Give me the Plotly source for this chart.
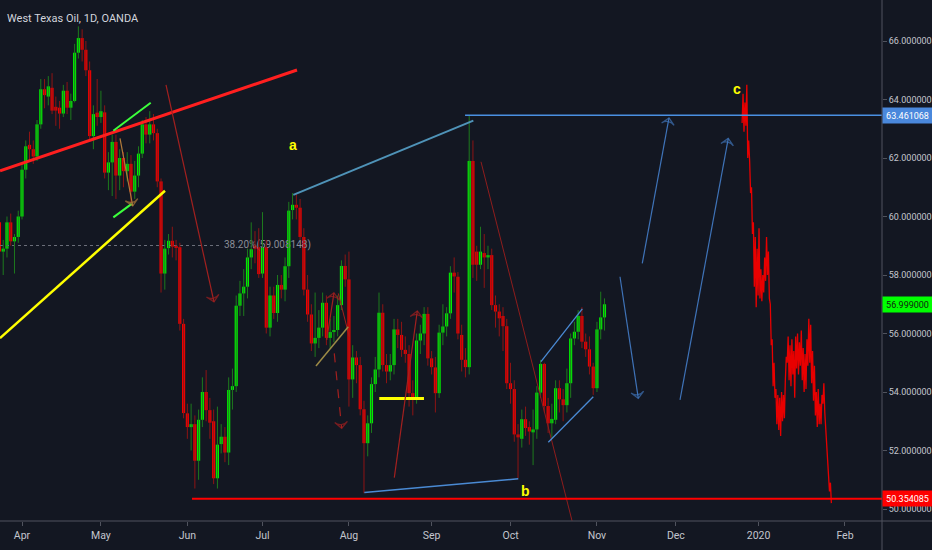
import pandas as pd
import plotly.graph_objects as go

title_text = "West Texas Oil, 1D, OANDA"

# ---- daily OHLC (Mar 22 2019 .. Nov 5 2019, trading days, Good Friday closed) ----
opens = [
    59.8, 58.8, 58.9, 59.8, 59.15, 59.3,
    60.0, 61.6, 62.45, 62.3, 62.05, 63.15, 64.35, 64.1, 64.4, 63.75, 63.72, 63.52, 64.3, 63.72, 63.95, 65.6, 66.1, 65.7, 65.0, 62.75, 63.55,
    63.4, 63.56, 61.5, 61.85, 62.55, 61.4, 62.0, 61.55, 61.8, 60.85, 61.4, 62.15, 63.15, 62.8, 63.15, 62.85, 61.2, 58.05, 58.92, 59.17, 59.0, 58.95, 56.33,
    53.27, 52.8, 52.9, 51.65, 53.05, 54.0, 53.38, 53.0, 51.05, 52.22, 52.47, 51.93, 54.07, 54.2, 56.95, 57.37, 57.6, 58.6, 59.0, 58.95,
    58.05, 58.95, 56.2, 57.3, 56.7, 57.66, 57.5, 58.3, 60.22, 60.4, 60.3, 59.3, 57.5, 56.65, 55.66, 55.85, 56.2, 57.05, 55.85, 56.05, 56.12, 56.97, 58.31,
    57.85, 54.43, 55.18, 54.92, 53.41, 52.25, 52.93, 54.27, 54.77, 56.71, 54.92, 54.7, 54.92, 56.14, 55.95, 55.44, 55.3, 53.96, 53.78, 55.76, 56.0, 56.67,
    55.15, 54.84, 53.96, 56.03, 56.24, 56.69, 58.08, 57.94, 55.95, 55.1, 54.85, 61.9, 58.8, 58.35, 58.75, 58.6, 58.68, 56.97, 56.75, 56.6, 56.25,
    54.3, 54.1, 52.55, 52.4, 53.07, 52.8, 52.62, 52.72, 53.98, 54.96, 53.52, 52.93, 53.05, 54.13, 53.75, 53.55, 54.3, 55.83, 56.06, 56.6, 55.72, 55.46, 54.87,
    54.13, 56.14, 56.55,
]
highs = [
    60.0, 59.2, 60.0, 60.1, 59.4, 60.2,
    61.8, 62.6, 62.9, 62.6, 63.3, 64.7, 64.7, 64.8, 64.9, 64.1, 63.95, 64.5, 64.6, 64.2, 65.9, 66.5, 66.4, 66.0, 65.3, 63.8, 64.7,
    64.3, 63.8, 62.2, 62.8, 62.8, 62.3, 62.2, 62.2, 62.1, 61.9, 62.4, 63.3, 63.4, 63.6, 63.5, 63.0, 61.3, 59.2, 59.4, 59.65, 59.2, 59.1, 56.5,
    53.6, 53.6, 53.2, 53.4, 54.5, 54.75, 53.8, 53.4, 53.5, 52.9, 52.8, 54.5, 54.8, 57.3, 57.8, 58.2, 58.9, 59.8, 59.5, 59.6,
    60.15, 59.2, 57.6, 57.6, 58.0, 58.0, 58.6, 60.5, 60.8, 60.8, 60.6, 59.6, 58.0, 57.0, 57.4, 56.8, 57.4, 57.3, 56.5, 56.6, 57.3, 58.5, 58.7,
    58.8, 55.6, 55.4, 55.2, 53.7, 53.2, 54.5, 55.2, 57.4, 57.0, 55.3, 55.3, 56.5, 56.5, 56.4, 55.9, 55.6, 54.4, 56.0, 56.3, 56.9, 56.9,
    55.4, 55.2, 56.3, 57.0, 56.9, 58.3, 58.6, 58.1, 56.3, 55.5, 63.45, 62.6, 59.0, 59.65, 59.4, 59.0, 58.9, 57.3, 57.0, 56.9, 56.5,
    55.0, 54.4, 52.9, 53.4, 53.5, 53.0, 53.4, 54.2, 55.1, 55.0, 53.8, 53.6, 54.4, 54.4, 54.1, 54.8, 56.0, 56.4, 56.8, 56.9, 56.0, 55.9, 55.0,
    56.4, 57.43, 57.2,
]
lows = [
    58.6, 58.0, 58.6, 59.0, 58.05, 59.1,
    59.9, 61.3, 61.9, 61.8, 61.9, 63.0, 63.7, 63.8, 63.5, 63.1, 63.0, 63.4, 63.5, 63.3, 63.9, 65.4, 65.3, 64.8, 62.6, 62.3, 63.1,
    63.2, 61.3, 60.9, 60.7, 60.6, 60.9, 61.0, 61.2, 60.4, 60.6, 61.0, 62.0, 62.5, 62.5, 62.6, 61.0, 57.4, 57.5, 58.7, 58.6, 58.5, 56.1, 53.1,
    52.4, 52.0, 50.7, 51.0, 52.8, 53.0, 52.4, 50.85, 50.7, 51.9, 51.6, 51.5, 53.4, 54.0, 56.6, 56.6, 57.2, 58.2, 58.4, 57.9,
    57.9, 56.0, 55.9, 56.5, 56.4, 57.2, 57.1, 57.9, 59.9, 59.9, 59.2, 57.3, 56.4, 55.4, 55.2, 55.5, 55.9, 55.6, 55.5, 55.7, 55.9, 56.8, 57.6,
    53.5, 53.8, 54.3, 53.2, 50.54, 51.8, 52.6, 54.0, 54.5, 54.7, 54.3, 54.4, 54.6, 55.5, 55.2, 55.0, 53.5, 53.2, 53.6, 55.3, 55.6, 54.9,
    54.6, 53.3, 53.8, 55.6, 55.9, 56.5, 57.4, 55.8, 54.7, 54.5, 54.6, 57.9, 57.8, 58.2, 57.56, 58.2, 56.8, 56.2, 55.9, 55.4, 54.1,
    53.6, 52.3, 51.06, 52.1, 52.5, 52.2, 51.5, 52.4, 53.8, 53.3, 52.6, 52.4, 52.9, 53.3, 53.0, 53.3, 53.8, 55.6, 55.8, 55.5, 55.2, 54.6, 53.9,
    54.0, 55.8, 56.1,
]
closes = [
    58.8, 58.9, 59.8, 59.15, 59.3, 60.0,
    61.6, 62.4, 62.3, 62.05, 63.15, 64.35, 64.15, 64.45, 63.62, 63.62, 63.52, 64.3, 63.72, 63.95, 65.6, 66.1, 65.7, 65.0, 62.75, 63.5, 63.4,
    63.6, 61.5, 61.85, 62.55, 61.4, 62.0, 61.55, 61.8, 60.85, 61.4, 62.15, 63.15, 62.8, 63.15, 62.85, 61.2, 58.05, 58.9, 59.17, 58.97, 58.95, 56.33, 53.28,
    52.8, 52.9, 51.65, 53.05, 54.0, 53.38, 52.95, 51.05, 52.2, 52.47, 51.93, 54.07, 54.2, 56.95, 57.37, 57.6, 58.6, 58.88, 58.9, 58.03,
    58.95, 56.2, 57.3, 56.7, 57.66, 57.5, 58.3, 60.2, 60.4, 60.3, 59.3, 57.5, 56.65, 55.66, 55.85, 56.2, 57.05, 55.85, 56.05, 56.12, 56.97, 58.31, 57.85,
    54.43, 55.18, 54.92, 53.41, 52.25, 52.93, 54.27, 54.77, 56.71, 54.92, 54.7, 54.92, 56.14, 55.95, 55.44, 55.3, 53.96, 53.8, 55.76, 56.0, 56.67, 55.15,
    54.85, 53.96, 56.03, 56.24, 56.69, 58.08, 57.95, 56.0, 55.1, 54.85, 61.9, 58.35, 58.35, 58.8, 58.6, 58.68, 56.97, 56.75, 56.52, 56.25, 54.3,
    54.1, 52.55, 52.45, 53.07, 52.77, 52.65, 52.72, 53.98, 54.96, 53.52, 52.93, 53.08, 54.13, 53.75, 53.55, 54.3, 55.83, 56.06, 56.6, 55.72, 55.46, 54.87, 54.13,
    56.14, 56.55, 56.999,
]

holidays = ["2019-04-19"]
candle_days = [d for d in pd.bdate_range("2019-03-22", "2019-11-05") if d.strftime("%Y-%m-%d") not in holidays]
assert len(candle_days) == len(opens) == len(highs) == len(lows) == len(closes)

# projected "bars pattern" (Dec 26 2019 .. Jan 28 2020), 4 readings per bar
pattern_values = [
    63.2, 64.2, 62.9, 63.9,  63.1, 64.5, 62.0, 62.6,  61.9, 60.8, 61.0, 59.4,  59.8, 57.6, 59.3, 56.9,
    58.9, 57.3, 59.6, 57.2,  58.2, 57.1, 58.0, 57.4,  58.6, 57.8, 59.3, 58.0,  58.8, 57.2, 57.0, 55.6,
    55.8, 54.2, 55.0, 53.8,  54.1, 52.9, 53.9, 52.7,  53.8, 52.5, 54.0, 53.0,  53.9, 53.1, 54.4, 55.2,
    55.0, 55.9, 54.4, 55.6,  54.2, 55.8, 54.6, 55.4,  53.8, 55.9, 54.8, 56.0,  54.6, 55.7, 54.9, 56.1,
    54.4, 55.5, 54.0, 55.3,  54.1, 55.8, 54.9, 56.5,  55.0, 56.3, 54.3, 55.4,  53.7, 54.9, 53.2, 54.0,
    52.8, 54.1, 52.9, 53.6,  52.9, 53.9, 53.6, 54.3,  53.3, 52.8, 52.2, 51.6,  51.3, 50.6, 50.9, 50.2,
]
pattern_days = list(pd.bdate_range("2019-12-26", "2020-01-28"))
pattern_hours = [3, 9, 15, 21]

month_ticks = ["2019-04-01", "2019-05-01", "2019-06-03", "2019-07-01", "2019-08-01", "2019-09-02",
               "2019-10-01", "2019-11-01", "2019-12-02", "2020-01-01", "2020-02-03"]
month_labels = ["Apr", "May", "Jun", "Jul", "Aug", "Sep", "Oct", "Nov", "Dec", "2020", "Feb"]
price_ticks = [50, 52, 54, 56, 58, 60, 62, 64, 66]

# drawings: anchors are (trading day, offset within the bar) and price
red_trend_x, red_trend_y = [("2019-03-22", 0.15), ("2019-07-12", 0.18)], [61.56, 65.01]
yellow_trend_x, yellow_trend_y = [("2019-03-22", 0.15), ("2019-05-24", 0.05)], [55.84, 60.88]
green_up_x, green_up_y = [("2019-05-06", 0.3), ("2019-05-20", 0.25)], [62.93, 63.89]
green_lo_x, green_lo_y = [("2019-05-06", 0.3), ("2019-05-13", 0.19)], [59.97, 60.43]
olive_x, olive_y = [("2019-07-19", 0.23), ("2019-08-01", -0.17)], [54.89, 56.23]
a_line_x, a_line_y = [("2019-07-11", 0.2), ("2019-09-17", 0.1)], [60.74, 63.28]
top_level = 63.461068
top_h_x = [("2019-09-13", -0.1), ("2020-03-31", 0.0)]
b_line_x, b_line_y = [("2019-08-07", 0.09), ("2019-10-03", 0.06)], [50.56, 51.03]
chan_up_x, chan_up_y = [("2019-10-11", 0.1), ("2019-10-28", 0.1)], [55.04, 56.84]
chan_lo_x, chan_lo_y = [("2019-10-15", 0.05), ("2019-10-31", 0.02)], [52.28, 53.84]
yellow_h_x, yellow_h_level = [("2019-08-13", 0.08), ("2019-08-29", -0.03)], 53.78
low_level = 50.354085
last_price = 56.999
red_h_x = [("2019-06-04", 0.24), ("2020-03-31", 0.0)]
fib_level = 59.008148
fib_pct = "38.20%"
fib_x = [("2019-03-22", 0.15), ("2019-06-14", 0.2)]
fib_label_x = ("2019-06-17", -0.25)
red_long_x, red_long_y = [("2019-09-19", 0.14), ("2019-10-23", 0.36)], [61.87, 49.6]
red_seg_x, red_seg_y = [("2019-07-29", 0.17), ("2019-08-01", 0.1)], [57.37, 55.89]

arrows = [  # (tail, head), (tail price, head price), colour, dash
    ([("2019-05-24", 0.32), ("2019-06-12", 0.09)], [64.50, 57.08], "#a3201f", "solid"),
    ([("2019-05-08", 0.08), ("2019-05-13", 0.46)], [62.67, 60.36], "#b07a3a", "solid"),
    ([("2019-07-24", 0.08), ("2019-07-26", 0.02)], [55.78, 57.39], "#a3201f", "solid"),
    ([("2019-07-26", 0.10), ("2019-07-30", 0.07)], [55.32, 52.76], "#a3201f", "dash"),
    ([("2019-08-19", 0.07), ("2019-08-27", 0.19)], [51.07, 56.77], "#a3201f", "solid"),
    ([("2019-11-11", 0.13), ("2019-11-18", 0.00)], [57.94, 53.78], "#3f73b8", "solid"),
    ([("2019-11-19", 0.06), ("2019-11-28", 0.17)], [58.40, 63.37], "#3f73b8", "solid"),
    ([("2019-12-03", 0.10), ("2019-12-20", -0.05)], [53.73, 62.67], "#3f73b8", "solid"),
]
wave_labels = [("a", ("2019-07-11", 0.11), 62.44), ("b", ("2019-10-07", -0.15), 50.62), ("c", ("2019-12-24", 0.26), 64.36)]

BG = "#131722"
UP, DN = "#00ee00", "#f00000"
UP_WICK, DN_WICK = "#1d7a1d", "#8e1414"
AXIS = "#50535e"
TXT = "#c3c6ce"
FONT = "Roboto, Liberation Sans, Arial, sans-serif"


def X(day, off=0.0):
    t = pd.Timestamp(day) + pd.Timedelta(hours=12 + 24 * off)
    return t.strftime("%Y-%m-%d %H:%M:%S")


def XA(anchors):
    return [X(d, o) for d, o in anchors]


fig = go.Figure()

# fib level (below candles)
fig.add_trace(go.Scatter(x=XA(fib_x), y=[fib_level, fib_level], mode="lines",
                         line=dict(color="#6b6e79", width=1, dash="dot"), hoverinfo="skip"))
fig.add_trace(go.Scatter(x=[X(*fib_label_x)], y=[fib_level], mode="text",
                         text=[fib_pct + "(" + format(fib_level, ".6f") + ")"], textposition="middle right",
                         textfont=dict(family=FONT, size=10, color="#8a8d97"), hoverinfo="skip"))

# candles: wicks then bodies
cx = [X(d) for d in candle_days]
for want_up, col in ((True, UP_WICK), (False, DN_WICK)):
    xs, ys = [], []
    for x, o, h, l, c in zip(cx, opens, highs, lows, closes):
        if (c >= o) == want_up:
            xs += [x, x, None]
            ys += [l, h, None]
    fig.add_trace(go.Scatter(x=xs, y=ys, mode="lines", line=dict(color=col, width=1), hoverinfo="skip"))

fig.add_trace(go.Bar(
    x=cx,
    y=[max(abs(c - o), 0.04) for o, c in zip(opens, closes)],
    base=[min(o, c) for o, c in zip(opens, closes)],
    width=0.84 * 86400000,
    marker=dict(color=[UP if c >= o else DN for o, c in zip(opens, closes)], line=dict(width=0)),
    hoverinfo="skip",
))

# projected bars pattern
px_ = [(pd.Timestamp(d) + pd.Timedelta(hours=h)).strftime("%Y-%m-%d %H:%M:%S") for d in pattern_days for h in pattern_hours]
fig.add_trace(go.Scatter(x=px_, y=pattern_values, mode="lines", line=dict(color="#e80000", width=1.3), hoverinfo="skip"))


def seg(xa, ya, color, width, dash="solid"):
    fig.add_trace(go.Scatter(x=XA(xa), y=ya, mode="lines", line=dict(color=color, width=width, dash=dash),
                             hoverinfo="skip"))


seg(red_long_x, red_long_y, "#8f1d1d", 1)
seg(red_seg_x, red_seg_y, "#a3201f", 1)
seg(olive_x, olive_y, "#9c8a46", 1.5)
seg(red_trend_x, red_trend_y, "#ff1f1f", 3)
seg(yellow_trend_x, yellow_trend_y, "#ffff00", 2.5)
seg(green_up_x, green_up_y, "#3cff3c", 2)
seg(green_lo_x, green_lo_y, "#3cff3c", 2)
seg(a_line_x, a_line_y, "#4f93b8", 2)
seg(top_h_x, [top_level, top_level], "#4a90e2", 1.5)
seg(b_line_x, b_line_y, "#4a8ad4", 1.5)
seg(chan_up_x, chan_up_y, "#4a8ad4", 1.3)
seg(chan_lo_x, chan_lo_y, "#4a8ad4", 1.3)
seg(yellow_h_x, [yellow_h_level, yellow_h_level], "#ffff00", 3)
seg(red_h_x, [low_level, low_level], "#ff0000", 2)

for xa, ya, col, dash in arrows:
    fig.add_trace(go.Scatter(
        x=XA(xa), y=ya, mode="lines+markers",
        line=dict(color=col, width=1.2, dash=dash),
        marker=dict(symbol="arrow-wide-open", size=[0, 9], angleref="previous", color=col,
                    line=dict(color=col, width=1.3)),
        hoverinfo="skip"))

annotations = []
for txt, xa, yv in wave_labels:
    annotations.append(dict(x=X(*xa), y=yv, xref="x", yref="y", text="<b>" + txt + "</b>", showarrow=False,
                            font=dict(family="Liberation Sans, Arial, sans-serif", size=14, color="#ffff00")))

annotations.append(dict(xref="paper", yref="paper", x=0, y=1, xanchor="left", yanchor="top", xshift=5, yshift=-10,
                        text=title_text, showarrow=False,
                        font=dict(family=FONT, size=11, color="#d1d4dc")))

for val, bg, fg in ((top_level, "#4a88dc", "#ffffff"), (last_price, "#00ff00", "#10240f"), (low_level, "#ff0000", "#ffffff")):
    annotations.append(dict(xref="paper", yref="y", x=1, y=val, xanchor="left", yanchor="middle",
                            text=format(val, ".6f"), showarrow=False, bgcolor=bg, borderpad=1, width=47, height=13,
                            align="center", font=dict(family=FONT, size=9, color=fg)))

shapes = [
    dict(type="line", xref="paper", yref="paper", x0=1, x1=1, y0=-29 / 521, y1=1,
         line=dict(color=AXIS, width=1)),
    dict(type="line", xref="paper", yref="paper", x0=0, x1=932 / 882, y0=0, y1=0,
         line=dict(color=AXIS, width=1)),
]

fig.update_layout(
    width=932, height=550,
    margin=dict(l=0, r=50, t=0, b=29),
    paper_bgcolor=BG, plot_bgcolor=BG,
    showlegend=False, hovermode=False,
    annotations=annotations, shapes=shapes,
    xaxis=dict(
        type="date",
        range=[X("2019-03-22", 0.146), X("2020-02-17", -0.15)],
        rangebreaks=[dict(bounds=["sat", "mon"]), dict(values=holidays)],
        tickvals=[X(d) for d in month_ticks], ticktext=month_labels,
        ticks="outside", ticklen=4, tickcolor=AXIS,
        showline=False, showgrid=False, zeroline=False,
        tickfont=dict(family=FONT, size=10.5, color=TXT),
        fixedrange=True, automargin=False,
    ),
    yaxis=dict(
        side="right",
        range=[49.5897, 67.4017],
        tickvals=price_ticks, tickformat=".6f",
        ticks="outside", ticklen=4, tickcolor=AXIS,
        showline=False, showgrid=False, zeroline=False,
        tickfont=dict(family=FONT, size=9, color=TXT),
        fixedrange=True, automargin=False,
    ),
)

fig.write_html("out.html", config={"displayModeBar": False},
               post_script="document.body.style.margin='0px';document.body.style.background='" + BG + "';")
